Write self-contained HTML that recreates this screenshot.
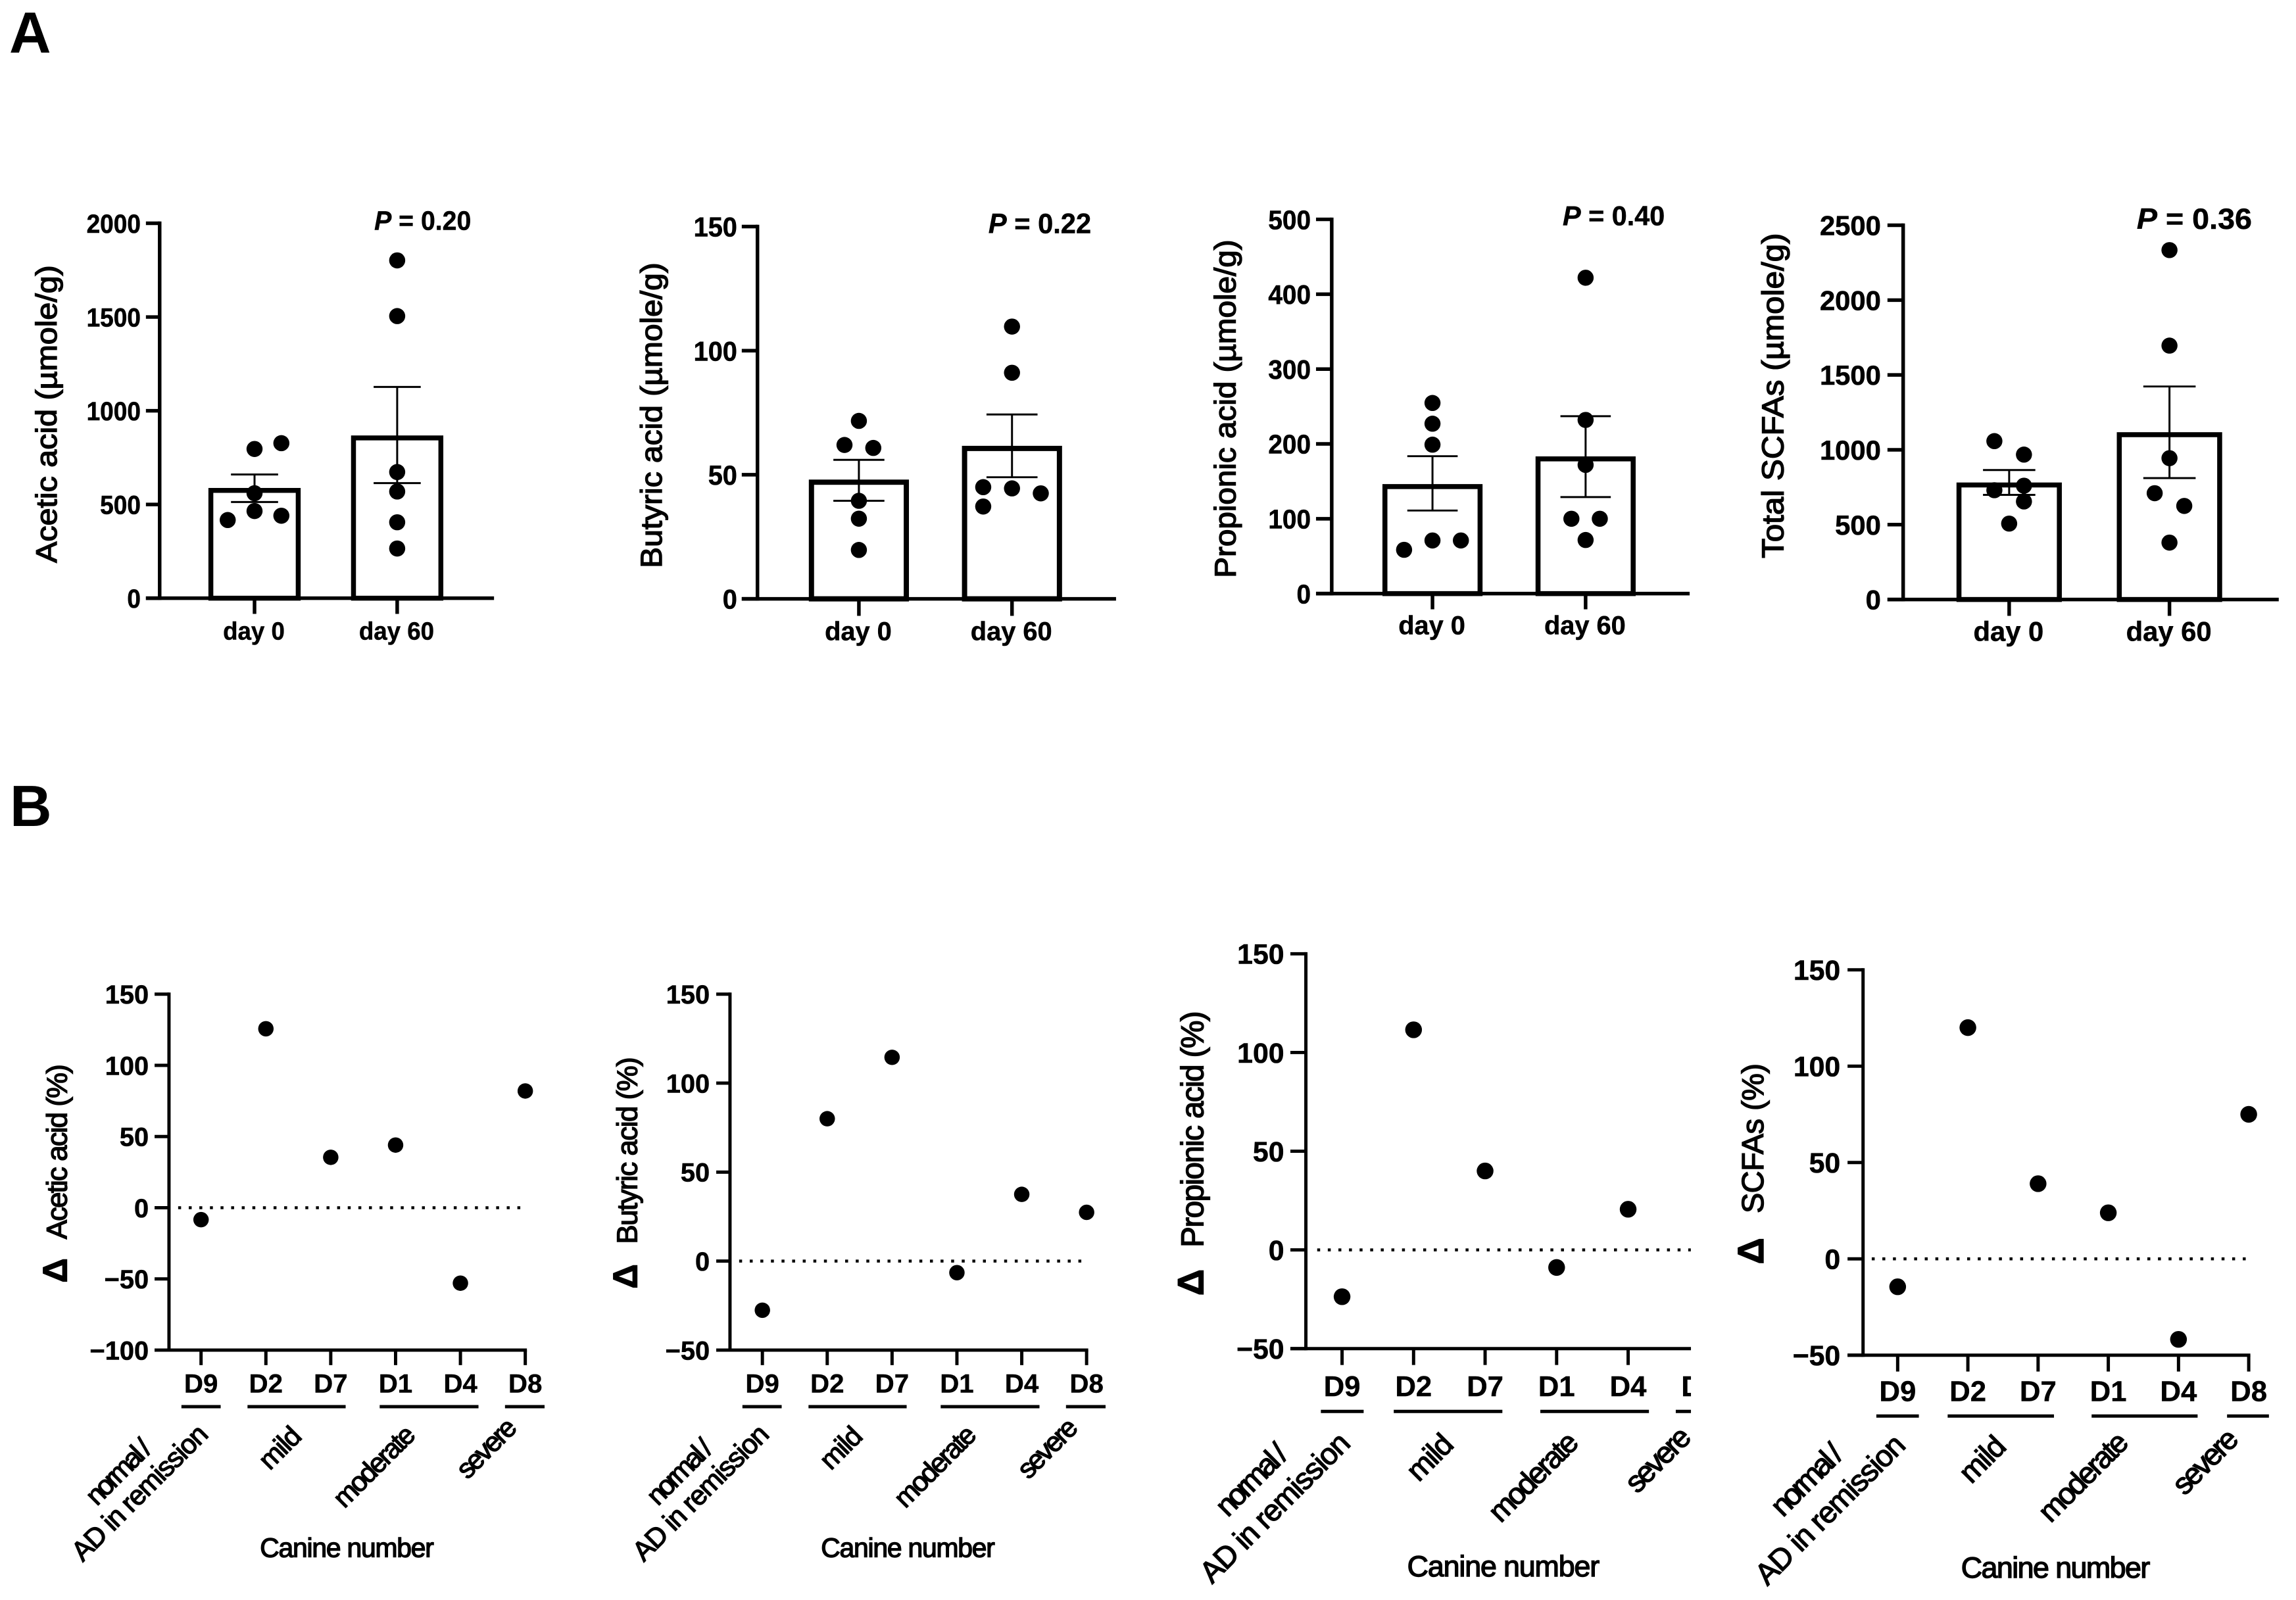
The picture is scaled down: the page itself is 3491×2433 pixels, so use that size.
<!DOCTYPE html>
<html lang="en">
<head>
<meta charset="utf-8">
<title>Short-chain fatty acids figure</title>
<style>
html,body{margin:0;padding:0;background:#fff;}
svg{display:block;}
text{font-family:"Liberation Sans",Arial,sans-serif;fill:#000;}
.ttl{stroke:#000;stroke-width:1.4px;white-space:pre;}
.pv{font-weight:700;stroke:#000;stroke-width:.5px;}
.lbl{stroke:#000;stroke-width:1.4px;}
.letter{font-weight:700;font-size:88px;}
</style>
</head>
<body>
<svg id="figure" xmlns="http://www.w3.org/2000/svg" width="3491" height="2433" viewBox="0 0 3491 2433">
<defs><clipPath id="clipB3"><rect x="1700" y="1300" width="875.2" height="1133"/></clipPath></defs>
<rect x="0" y="0" width="3491" height="2433" fill="#fff"/>
<text class="letter" x="14" y="80">A</text>
<text class="letter" x="15" y="1256">B</text>

<g id="A1" transform="translate(0,250) scale(.9949) translate(0,-250)">
<text class="ttl" transform="translate(86.5,859) rotate(-90)" font-size="45" textLength="455" lengthAdjust="spacingAndGlyphs">Acetic acid (µmole/g)</text>
<text class="pv" x="572" y="350" font-size="41" textLength="148" lengthAdjust="spacingAndGlyphs"><tspan font-style="italic">P</tspan> = 0.20</text>
</g>
<g id="A2" transform="translate(900,250) scale(.9949) translate(-900,-250)">
<text class="ttl" transform="translate(1006.7,867) rotate(-90)" font-size="46" textLength="467" lengthAdjust="spacingAndGlyphs">Butyric acid (µmole/g)</text>
<text class="pv" x="1506" y="355" font-size="43" textLength="157" lengthAdjust="spacingAndGlyphs"><tspan font-style="italic">P</tspan> = 0.22</text>
</g>
<g id="A3" transform="translate(1800,250) scale(.9949) translate(-1800,-250)">
<text class="ttl" transform="translate(1879,882) rotate(-90)" font-size="46" textLength="517" lengthAdjust="spacingAndGlyphs">Propionic acid (µmole/g)</text>
<text class="pv" x="2379" y="343" font-size="42" textLength="156" lengthAdjust="spacingAndGlyphs"><tspan font-style="italic">P</tspan> = 0.40</text>
</g>
<g id="A4" transform="translate(2640,250) scale(.9949) translate(-2640,-250)">
<text class="ttl" transform="translate(2712,852) rotate(-90)" font-size="47" textLength="497" lengthAdjust="spacingAndGlyphs">Total SCFAs (µmole/g)</text>
<text class="pv" x="3252" y="348.5" font-size="45" textLength="176" lengthAdjust="spacingAndGlyphs"><tspan font-style="italic">P</tspan> = 0.36</text>
</g>

<g id="B1" transform="translate(50,1460) scale(.9949) translate(-50,-1460)">
<text class="ttl" transform="translate(102,1953) rotate(-90)" font-size="44" textLength="334" lengthAdjust="spacing"><tspan font-weight="700" font-size="52">Δ</tspan>   Acetic acid (%)</text>
<text class="lbl" text-anchor="end" transform="translate(234,2209) rotate(-45)" font-size="42" textLength="122" lengthAdjust="spacing">normal /</text>
<text class="lbl" text-anchor="end" transform="translate(320,2187) rotate(-45)" font-size="42" textLength="274" lengthAdjust="spacing">AD in remission</text>
<text class="lbl" text-anchor="end" transform="translate(463,2190) rotate(-45)" font-size="42" textLength="72" lengthAdjust="spacing">mild</text>
<text class="lbl" text-anchor="end" transform="translate(637,2188) rotate(-45)" font-size="42" textLength="157" lengthAdjust="spacing">moderate</text>
<text class="lbl" text-anchor="end" transform="translate(792,2177) rotate(-45)" font-size="42" textLength="110" lengthAdjust="spacing">severe</text>
<text class="ttl" text-anchor="middle" x="530" y="2372" font-size="41" textLength="266" lengthAdjust="spacing">Canine number</text>
</g>
<g id="B2" transform="translate(900,1460) scale(.9949) translate(-900,-1460)">
<text class="ttl" transform="translate(969,1962) rotate(-90)" font-size="44" textLength="354" lengthAdjust="spacing"><tspan font-weight="700" font-size="52">Δ</tspan>   Butyric acid (%)</text>
<text class="lbl" text-anchor="end" transform="translate(1087,2209) rotate(-45)" font-size="42" textLength="122" lengthAdjust="spacing">normal /</text>
<text class="lbl" text-anchor="end" transform="translate(1173,2187) rotate(-45)" font-size="42" textLength="274" lengthAdjust="spacing">AD in remission</text>
<text class="lbl" text-anchor="end" transform="translate(1316,2190) rotate(-45)" font-size="42" textLength="72" lengthAdjust="spacing">mild</text>
<text class="lbl" text-anchor="end" transform="translate(1490,2188) rotate(-45)" font-size="42" textLength="157" lengthAdjust="spacing">moderate</text>
<text class="lbl" text-anchor="end" transform="translate(1645,2177) rotate(-45)" font-size="42" textLength="110" lengthAdjust="spacing">severe</text>
<text class="ttl" text-anchor="middle" x="1383" y="2372" font-size="41" textLength="266" lengthAdjust="spacing">Canine number</text>
</g>
<g id="B3" clip-path="url(#clipB3)" transform="translate(1760,1420) scale(.9949) translate(-1760,-1420)">
<text class="ttl" transform="translate(1830,1973) rotate(-90)" font-size="48" textLength="435" lengthAdjust="spacing"><tspan font-weight="700" font-size="56">Δ</tspan>   Propionic acid (%)</text>
<text class="lbl" text-anchor="end" transform="translate(1962,2218) rotate(-45)" font-size="46" textLength="134" lengthAdjust="spacing">normal /</text>
<text class="lbl" text-anchor="end" transform="translate(2057,2201) rotate(-45)" font-size="46" textLength="302" lengthAdjust="spacing">AD in remission</text>
<text class="lbl" text-anchor="end" transform="translate(2215,2203) rotate(-45)" font-size="46" textLength="79" lengthAdjust="spacing">mild</text>
<text class="lbl" text-anchor="end" transform="translate(2406,2200) rotate(-45)" font-size="46" textLength="172" lengthAdjust="spacing">moderate</text>
<text class="lbl" text-anchor="end" transform="translate(2578,2192) rotate(-45)" font-size="46" textLength="120" lengthAdjust="spacing">severe</text>
<text class="ttl" text-anchor="middle" x="2288.6" y="2402" font-size="45" textLength="294" lengthAdjust="spacing">Canine number</text>
</g>
<g id="B4" transform="translate(2640,1420) scale(.9949) translate(-2640,-1420)">
<text class="ttl" transform="translate(2681,1925) rotate(-90)" font-size="47" textLength="307" lengthAdjust="spacing"><tspan font-weight="700" font-size="56">Δ</tspan>   SCFAs (%)</text>
<text class="lbl" text-anchor="end" transform="translate(2806,2218) rotate(-45)" font-size="46" textLength="134" lengthAdjust="spacing">normal /</text>
<text class="lbl" text-anchor="end" transform="translate(2901,2204) rotate(-45)" font-size="46" textLength="302" lengthAdjust="spacing">AD in remission</text>
<text class="lbl" text-anchor="end" transform="translate(3055,2206) rotate(-45)" font-size="46" textLength="79" lengthAdjust="spacing">mild</text>
<text class="lbl" text-anchor="end" transform="translate(3242,2200) rotate(-45)" font-size="46" textLength="172" lengthAdjust="spacing">moderate</text>
<text class="lbl" text-anchor="end" transform="translate(3410,2195) rotate(-45)" font-size="46" textLength="120" lengthAdjust="spacing">severe</text>
<text class="ttl" text-anchor="middle" x="3128" y="2404" font-size="45" textLength="289" lengthAdjust="spacing">Canine number</text>
</g>
</svg>

<script>
/* ---------- Panel A data ---------- */
const barCategories = ['day 0', 'day 60'];

const aceticTicks = [0, 500, 1000, 1500, 2000];
const aceticMeans = [575, 855];
const aceticErrUpper = [660, 1127];
const aceticErrLower = [513, 614];
const aceticDay0 = [417, 465, 440, 796, 827, 560];
const aceticDay60 = [1802, 1505, 673, 569, 405, 265];

const butyricTicks = [0, 50, 100, 150];
const butyricMeans = [47, 60.6];
const butyricErrUpper = [56, 74.3];
const butyricErrLower = [39.5, 49];
const butyricDay0 = [71.7, 62, 60.8, 39.5, 32.3, 19.7];
const butyricDay60 = [109.7, 91.1, 45, 44.5, 42.5, 37.2];

const propionicTicks = [0, 100, 200, 300, 400, 500];
const propionicMeans = [143, 180];
const propionicErrUpper = [183.6, 237];
const propionicErrLower = [111, 129];
const propionicDay0 = [254.7, 227, 199, 58.5, 71, 71];
const propionicDay60 = [422, 232, 172, 100, 100, 71.6];

const totalTicks = [0, 500, 1000, 1500, 2000, 2500];
const totalMeans = [765, 1101];
const totalErrUpper = [865, 1423];
const totalErrLower = [699, 811];
const totalDay0 = [1058, 968, 760, 730, 655, 507];
const totalDay60 = [2334, 1696, 944, 710, 625, 380];

/* ---------- Panel B data ---------- */
const canineCategories = ['D9', 'D2', 'D7', 'D1', 'D4', 'D8'];
const deltaTicksWide = [-100, -50, 0, 50, 100, 150];
const deltaTicks = [-50, 0, 50, 100, 150];
const deltaAcetic = [-8.4, 125.7, 35.4, 44, -53, 82];
const deltaButyric = [-27.6, 80, 114.5, -6.5, 37.5, 27.4];
const deltaPropionic = [-23.7, 111.5, 40, -8.9, 20.6, 60];
const deltaTotal = [-14.5, 120, 39, 23.9, -41.8, 75];

/* ---------- Layout (geometry only) ---------- */
const layoutA1 = {id:'A1', axisX:244, yTop:340, yBottom:913, tickLeft:223, xEnd:755, tickBottom:937, c0:389, c1:607, barW:141, barSW:7.5, capW:72, labelRight:215, fs:40, sx:.93, catFs:38, catSx:.97, catY:976, step:41,
  cols0:[-1,0,1,0,1,0], cols1:[0,0,0,0,0,0]};
const layoutA2 = {id:'A2', axisX:1153, yTop:345, yBottom:914, tickLeft:1129, xEnd:1701, tickBottom:940, c0:1308, c1:1542, barW:153, barSW:8, capW:78, labelRight:1122, fs:42, sx:.95, catFs:40, catSx:1, catY:977, step:22,
  cols0:[0,-1,1,0,0,0], cols1:[0,0,-2,0,2,-2]};
const layoutA3 = {id:'A3', axisX:2026, yTop:334, yBottom:906, tickLeft:2002, xEnd:2573, tickBottom:930, c0:2180, c1:2414, barW:153, barSW:7.6, capW:77, labelRight:1994, fs:41, sx:.95, catFs:40, catSx:1, catY:968, step:21.7,
  cols0:[0,0,0,-2,0,2], cols1:[0,0,0,-1,1,0]};
const layoutA4 = {id:'A4', axisX:2895, yTop:343, yBottom:915, tickLeft:2871, xEnd:3469, tickBottom:940, c0:3057, c1:3302, barW:161, barSW:7.6, capW:80, labelRight:2861, fs:42, sx:1, catFs:42, catSx:1, catY:978, step:22.6,
  cols0:[-1,1,1,-1,1,0], cols1:[0,0,0,-1,1,0]};

const layoutB1 = {id:'B1', axisX:258, yTop:1512, yBottom:2056, tickLeft:236, tickBottom:2079, x0:307, step:99.1, labelRight:227, fs:40, catFs:40.5, catY:2121, lineY:2142.5, r:11.8,
  dotFrom:272, dotTo:802, segs:[[277,337],[378,528],[580,731],[771.5,832]]};
const layoutB2 = {id:'B2', axisX:1111, yTop:1512, yBottom:2056, tickLeft:1090, tickBottom:2079, x0:1160.5, step:99.1, labelRight:1080, fs:40, catFs:40.5, catY:2121, lineY:2142.5, r:11.8,
  dotFrom:1125, dotTo:1655, segs:[[1130,1190],[1231,1381],[1433,1584],[1624.5,1685]]};
const layoutB3 = {id:'B3', axisX:1986.7, yTop:1450.5, yBottom:2054, tickLeft:1963, tickBottom:2079, x0:2042, step:109.3, labelRight:1953.5, fs:43, catFs:44, catY:2126.5, lineY:2150, r:12.8,
  dotFrom:2004, dotTo:2575, segs:[[2009.6,2075],[2121,2287],[2345,2511],[2552,2620]]};
const layoutB4 = {id:'B4', axisX:2833.7, yTop:1475, yBottom:2064, tickLeft:2810, tickBottom:2089, x0:2886.6, step:107.3, labelRight:2799, fs:43, catFs:44, catY:2134, lineY:2157, r:12.8,
  dotFrom:2847, dotTo:3421, segs:[[2854,2919],[2963,3125.5],[3183,3345],[3390,3454]]};

/* ---------- Drawing helpers ---------- */
const NS = 'http://www.w3.org/2000/svg';
function mk(parent, tag, attrs, txt) {
  const el = document.createElementNS(NS, tag);
  for (const k in attrs) el.setAttribute(k, attrs[k]);
  if (txt !== undefined) el.textContent = txt;
  parent.appendChild(el);
  return el;
}
function linearY(L, ticks) {
  const lo = Math.min.apply(null, ticks), hi = Math.max.apply(null, ticks);
  return function (v) { return L.yBottom - (v - lo) / (hi - lo) * (L.yBottom - L.yTop); };
}
function drawYAxis(g, L, ticks, y, sw) {
  const axis = mk(g, 'line', {x1:L.axisX, x2:L.axisX, y1:L.yTop - sw / 2, y2:L.yBottom + sw / 2, stroke:'#000', 'stroke-width':sw});
  
  
  ticks.forEach(function (t) {
    const tick = mk(g, 'line', {x1:L.tickLeft, x2:L.axisX, y1:y(t), y2:y(t), stroke:'#000', 'stroke-width':sw});
    
    
    const scale = L.sx || 1;
    const label = mk(g, 'text', {'text-anchor':'end', 'font-weight':700, 'font-size':L.fs, stroke:'#000', 'stroke-width':0.6,
      transform:'translate(' + L.labelRight + ',' + (y(t) + L.fs * 0.36) + ') scale(' + scale + ',1)'}, String(t).replace('-', '\u2212'));
    
    
  });
}
function drawBarPanel(L, ticks, cats, means, upper, lower, day0, day60) {
  const g = document.getElementById(L.id);
  const y = linearY(L, ticks);
  const centers = [L.c0, L.c1];
  const groups = [day0, day60];
  const cols = [L.cols0, L.cols1];
  cats.forEach(function (cat, i) {
    const cx = centers[i];
    const bar = mk(g, 'rect', {x:cx - L.barW / 2 + L.barSW / 2, y:y(means[i]), width:L.barW - L.barSW, height:y(0) - y(means[i]), fill:'#fff', stroke:'#000', 'stroke-width':L.barSW});
    
    
    const stem = mk(g, 'line', {x1:cx, x2:cx, y1:y(upper[i]), y2:y(lower[i]), stroke:'#000', 'stroke-width':3});
    
    
    [upper[i], lower[i]].forEach(function (v) {
      const cap = mk(g, 'line', {x1:cx - L.capW / 2, x2:cx + L.capW / 2, y1:y(v), y2:y(v), stroke:'#000', 'stroke-width':3});
      
      
    });
    groups[i].forEach(function (v, j) {
      const dot = mk(g, 'circle', {cx:cx + cols[i][j] * L.step, cy:y(v), r:12.3, fill:'#000'});
      
      
    });
    const tick = mk(g, 'line', {x1:cx, x2:cx, y1:L.yBottom, y2:L.tickBottom, stroke:'#000', 'stroke-width':5.5});
    
    
    const label = mk(g, 'text', {'text-anchor':'middle', 'font-weight':700, 'font-size':L.catFs, stroke:'#000', 'stroke-width':0.5,
      transform:'translate(' + (cx - 1) + ',' + L.catY + ') scale(' + L.catSx + ',1)'}, cat);
    
    
  });
  const xAxis = mk(g, 'line', {x1:L.tickLeft, x2:L.xEnd, y1:L.yBottom, y2:L.yBottom, stroke:'#000', 'stroke-width':5.5});
  
  
  drawYAxis(g, L, ticks, y, 5.5);
}
function drawDeltaPanel(L, ticks, cats, values) {
  const g = document.getElementById(L.id);
  const y = linearY(L, ticks);
  const x = function (i) { return L.x0 + i * L.step; };
  const xEnd = x(cats.length - 1) + 2.5;
  const xAxis = mk(g, 'line', {x1:L.tickLeft, x2:xEnd, y1:L.yBottom, y2:L.yBottom, stroke:'#000', 'stroke-width':5});
  
  
  const zero = mk(g, 'line', {x1:L.dotFrom, x2:L.dotTo, y1:y(0), y2:y(0), stroke:'#000', 'stroke-width':4.5, 'stroke-dasharray':'4.5 11.7'});
  
  
  cats.forEach(function (cat, i) {
    const tick = mk(g, 'line', {x1:x(i), x2:x(i), y1:L.yBottom, y2:L.tickBottom, stroke:'#000', 'stroke-width':5});
    
    
    const label = mk(g, 'text', {x:x(i), y:L.catY, 'text-anchor':'middle', 'font-weight':700, 'font-size':L.catFs, stroke:'#000', 'stroke-width':0.4}, cat);
    
    
    const dot = mk(g, 'circle', {cx:x(i), cy:y(values[i]), r:L.r, fill:'#000'});
    
    
  });
  L.segs.forEach(function (s) {
    const seg = mk(g, 'line', {x1:s[0], x2:s[1], y1:L.lineY, y2:L.lineY, stroke:'#000', 'stroke-width':5});
    
    
  });
  drawYAxis(g, L, ticks, y, 5);
}

/* ---------- Render ---------- */
drawBarPanel(layoutA1, aceticTicks, barCategories, aceticMeans, aceticErrUpper, aceticErrLower, aceticDay0, aceticDay60);
drawBarPanel(layoutA2, butyricTicks, barCategories, butyricMeans, butyricErrUpper, butyricErrLower, butyricDay0, butyricDay60);
drawBarPanel(layoutA3, propionicTicks, barCategories, propionicMeans, propionicErrUpper, propionicErrLower, propionicDay0, propionicDay60);
drawBarPanel(layoutA4, totalTicks, barCategories, totalMeans, totalErrUpper, totalErrLower, totalDay0, totalDay60);
drawDeltaPanel(layoutB1, deltaTicksWide, canineCategories, deltaAcetic);
drawDeltaPanel(layoutB2, deltaTicks, canineCategories, deltaButyric);
drawDeltaPanel(layoutB3, deltaTicks, canineCategories, deltaPropionic);
drawDeltaPanel(layoutB4, deltaTicks, canineCategories, deltaTotal);
</script>
</body>
</html>
